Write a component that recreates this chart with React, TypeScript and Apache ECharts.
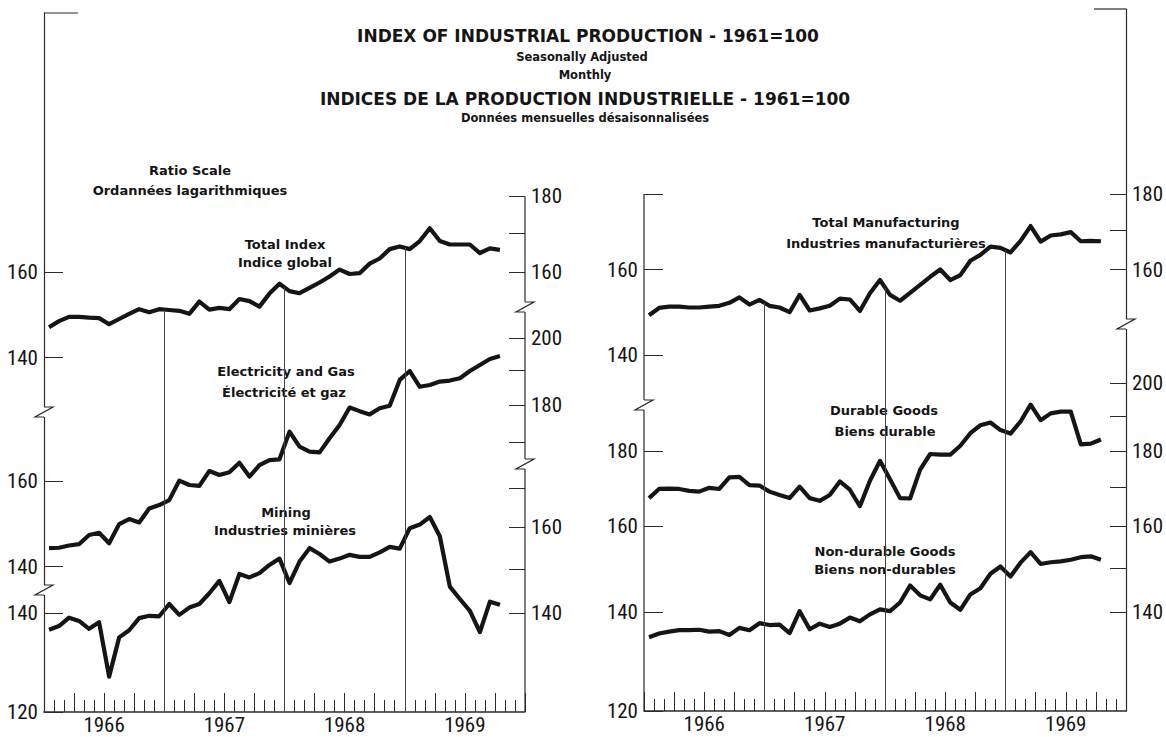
import React, { useEffect, useRef } from "react";
import * as echarts from "echarts";

// ---------------- data (monthly, Jan 1966 – Oct 1969, 1961 = 100) ----------------
const yearLabels = ["1966", "1967", "1968", "1969"];

const totalIndex = [
  146.8, 148.2, 149.2, 149.2, 149.0, 148.9, 147.5, 148.7, 149.9, 151.0, 150.3, 151.0,
  150.8, 150.6, 149.9, 152.8, 150.9, 151.3, 151.0, 153.4, 152.9, 151.6, 154.7, 157.1,
  155.3, 154.8, 156.1, 157.4, 158.9, 160.6, 159.5, 159.7, 162.1, 163.4, 165.8, 166.5,
  165.8, 167.9, 171.3, 167.9, 167.0, 167.0, 167.0, 164.8, 166.0, 165.6,
];
const electricityGas = [
  144.1, 144.2, 144.7, 145.0, 147.1, 147.6, 145.2, 149.6, 150.8, 150.0, 153.3, 154.1,
  155.3, 160.1, 159.0, 158.8, 162.5, 161.5, 162.2, 164.6, 161.1, 164.0, 165.3, 165.5,
  172.8, 168.8, 167.5, 167.3, 171.0, 174.6, 179.4, 178.4, 177.5, 179.2, 179.9, 187.3,
  189.9, 185.3, 185.8, 186.8, 187.1, 187.8, 189.9, 191.7, 193.5, 194.4,
];
const mining = [
  136.4, 137.2, 139.0, 138.3, 136.6, 138.0, 126.8, 134.8, 136.3, 138.9, 139.4, 139.3,
  142.0, 139.6, 141.2, 142.0, 144.4, 147.2, 142.4, 148.8, 148.0, 149.0, 150.9, 152.4,
  146.7, 151.7, 154.9, 153.5, 151.7, 152.4, 153.3, 152.8, 152.8, 153.9, 155.2, 154.8,
  159.8, 160.7, 162.6, 157.8, 145.9, 143.1, 140.5, 135.9, 142.5, 141.8,
];
const totalManufacturing = [
  149.0, 150.7, 151.0, 151.0, 150.8, 150.8, 151.0, 151.2, 151.9, 153.2, 151.5, 152.6,
  151.2, 150.8, 149.7, 153.8, 150.1, 150.6, 151.2, 152.9, 152.7, 150.0, 154.2, 157.4,
  153.8, 152.4, 154.3, 156.2, 158.2, 160.0, 157.4, 158.6, 162.2, 163.7, 165.8, 165.5,
  164.3, 167.3, 171.2, 167.1, 168.7, 169.0, 169.6, 167.2, 167.3, 167.2,
];
const durableGoods = [
  167.2, 169.6, 169.7, 169.6, 169.1, 168.9, 169.9, 169.6, 172.7, 172.8, 170.6, 170.5,
  168.9, 168.0, 167.2, 170.2, 167.2, 166.5, 168.0, 171.6, 169.4, 165.1, 171.8, 177.2,
  172.2, 167.2, 167.1, 174.8, 179.1, 178.9, 178.9, 181.4, 185.0, 187.3, 188.1, 185.9,
  184.9, 188.4, 193.4, 188.8, 190.8, 191.3, 191.3, 181.8, 182.0, 183.2,
];
const nonDurableGoods = [
  134.6, 135.4, 135.8, 136.1, 136.1, 136.2, 135.8, 135.9, 135.1, 136.6, 136.1, 137.6,
  137.2, 137.3, 135.5, 140.2, 136.3, 137.5, 136.8, 137.5, 138.8, 138.0, 139.5, 140.6,
  140.2, 142.1, 145.9, 143.7, 142.8, 146.1, 142.1, 140.5, 143.9, 145.3, 148.6, 150.3,
  148.0, 151.2, 153.7, 150.9, 151.3, 151.5, 151.9, 152.5, 152.7, 151.9,
];

// tick values / labels of the broken ratio scales
const totalLeftTicks = [140, 160];
const totalRightTicks = [160, 170, 180];
const totalRightLabels = [160, 180];
const elecLeftTicks = [140, 160];
const elecRightTicks = [170, 180, 190, 200];
const elecRightLabels = [180, 200];
const miningLeftTicks = [120, 140];
const miningRightTicks = [140, 150, 160, 170];
const miningRightLabels = [140, 160];
const mfgLeftTicks = [140, 160, 180];
const mfgLeftLabels = [140, 160];
const mfgRightTicks = [160, 170, 180];
const mfgRightLabels = [160, 180];
const goodsLeftTicks = [120, 140, 160, 180];
const goodsRightTicks = [140, 150, 160, 170, 180, 190, 200];
const goodsRightLabels = [140, 160, 180, 200];

// ---------------- layout ----------------
const K = 641.8; // pixels per unit of ln(value)
const LG = { left: 44, right: 525, top: 13, bottom: 712 };
const RG = { left: 644, right: 1126, top: 9, bottom: 711 };
const INK = "#151515";
const AX = "#2a2a2a";
const NUM_FONT =
  "'Liberation Sans Narrow', 'Roboto Condensed', 'DejaVu Sans Condensed', 'Liberation Sans', sans-serif";
const TXT_FONT = "'DejaVu Sans', 'Liberation Sans', sans-serif";

type Anchor = { v: number; y: number };
const A_TOTAL: Anchor = { v: 160, y: 272 };
const A_ELEC: Anchor = { v: 160, y: 481 };
const A_MIN: Anchor = { v: 120, y: 712 };
const A_MFG: Anchor = { v: 160, y: 269.5 };
const A_GOODS: Anchor = { v: 120, y: 711 };

const range = (a: Anchor, g: { top: number; bottom: number }) => ({
  min: Math.log(a.v) - (g.bottom - a.y) / K,
  max: Math.log(a.v) + (a.y - g.top) / K,
});
const py = (a: Anchor, v: number) => a.y - K * Math.log(v / a.v);

function yAx(
  gridIndex: number,
  position: "left" | "right",
  r: { min: number; max: number },
  ticks: number[],
  labels: number[],
  showLine: boolean
) {
  const left = position === "left";
  return {
    type: "value",
    gridIndex,
    position,
    min: r.min,
    max: r.max,
    axisLine: { show: showLine, onZero: false, lineStyle: { color: AX, width: 1.2 } },
    axisTick: {
      show: true,
      inside: true,
      length: left ? 19 : 16,
      customValues: ticks.map((t) => Math.log(t)),
      lineStyle: { color: AX, width: 1 },
    },
    axisLabel: {
      show: true,
      customValues: labels.map((t) => Math.log(t)),
      formatter: (v: number) => String(Math.round(Math.exp(v))),
      margin: 6,
      color: INK,
      fontSize: 21,
      fontFamily: NUM_FONT,
    },
    splitLine: { show: false },
  };
}

function xAx(gridIndex: number) {
  return {
    type: "value",
    gridIndex,
    min: 0,
    max: 48,
    interval: 3,
    position: "bottom",
    axisLine: { show: true, onZero: false, lineStyle: { color: AX, width: 1.5 } },
    axisTick: { show: true, inside: true, length: 19, lineStyle: { color: AX, width: 1 } },
    minorTick: { show: true, splitNumber: 3, length: 12, lineStyle: { color: AX, width: 1 } },
    axisLabel: {
      formatter: (v: number) => (v % 12 === 6 ? yearLabels[(v - 6) / 12] : ""),
      margin: 2,
      color: INK,
      fontSize: 21,
      lineHeight: 21,
      fontFamily: NUM_FONT,
    },
    splitLine: { show: false },
    minorSplitLine: { show: false },
  };
}

const toPts = (vals: number[]) => vals.map((v, i) => [i + 0.5, Math.log(v)]);

function yearLines(vals: number[], r: { min: number }) {
  return [12, 24, 36].map((b) => [
    { coord: [b, r.min] },
    { coord: [b, (Math.log(vals[b - 1]) + Math.log(vals[b])) / 2] },
  ]);
}

function lineSeries(vals: number[], xi: number, yi: number, extra: any = {}) {
  return {
    type: "line",
    xAxisIndex: xi,
    yAxisIndex: yi,
    data: toPts(vals),
    symbol: "none",
    showSymbol: false,
    lineStyle: { color: INK, width: 4.2, join: "round" },
    silent: true,
    z: 3,
    ...extra,
  };
}

const txt = (text: string, x: number, y: number, size: number, weight = "bold", family = TXT_FONT) => ({
  type: "text",
  x,
  y,
  silent: true,
  style: {
    text,
    fill: INK,
    fontSize: size,
    fontWeight: weight,
    fontFamily: family,
    textAlign: "center",
    textVerticalAlign: "middle",
    align: "center",
    verticalAlign: "middle",
  },
});

const ln = (x1: number, y1: number, x2: number, y2: number) => ({
  type: "line",
  silent: true,
  shape: { x1, y1, x2, y2 },
  style: { stroke: AX, lineWidth: 1.2 },
});

const brk = (x: number, y: number) => [
  { type: "rect", silent: true, shape: { x: x - 3, y: y - 5, width: 6, height: 10 }, style: { fill: "#fff" }, z: 10 },
  {
    type: "polyline",
    silent: true,
    shape: { points: [[x, y - 5], [x + 9, y - 5], [x - 9, y + 5], [x, y + 5]] },
    style: { stroke: AX, lineWidth: 1.2, fill: null },
    z: 11,
  },
];

export default function App() {
  const ref = useRef<HTMLDivElement>(null);
  useEffect(() => {
    if (!ref.current) return;
    const chart = echarts.init(ref.current, undefined, { renderer: "svg" });

    const rTotal = range(A_TOTAL, LG);
    const rElec = range(A_ELEC, LG);
    const rMin = range(A_MIN, LG);
    const rMfg = range(A_MFG, RG);
    const rGoods = range(A_GOODS, RG);

    const markYears = (vals: number[], r: { min: number }) => ({
      silent: true,
      symbol: ["none", "none"],
      label: { show: false },
      lineStyle: { color: "#444", width: 1, type: "solid" },
      emphasis: { disabled: true },
      data: yearLines(vals, r),
    });

    const option: any = {
      animation: false,
      backgroundColor: "#ffffff",
      grid: [
        { left: LG.left, top: LG.top, width: LG.right - LG.left, height: LG.bottom - LG.top, containLabel: false, outerBoundsMode: "none" },
        { left: RG.left, top: RG.top, width: RG.right - RG.left, height: RG.bottom - RG.top, containLabel: false, outerBoundsMode: "none" },
      ],
      xAxis: [xAx(0), xAx(1)],
      yAxis: [
        yAx(0, "left", rTotal, totalLeftTicks, totalLeftTicks, true),
        yAx(0, "right", rTotal, totalRightTicks, totalRightLabels, false),
        yAx(0, "left", rElec, elecLeftTicks, elecLeftTicks, false),
        yAx(0, "right", rElec, elecRightTicks, elecRightLabels, false),
        yAx(0, "left", rMin, miningLeftTicks, miningLeftTicks, false),
        yAx(0, "right", rMin, miningRightTicks, miningRightLabels, false),
        yAx(1, "left", rMfg, mfgLeftTicks, mfgLeftLabels, false),
        yAx(1, "right", rMfg, mfgRightTicks, mfgRightLabels, true),
        yAx(1, "left", rGoods, goodsLeftTicks, goodsLeftTicks, false),
        yAx(1, "right", rGoods, goodsRightTicks, goodsRightLabels, false),
      ],
      series: [
        lineSeries(totalIndex, 0, 0, { name: "Total Index", markLine: markYears(totalIndex, rTotal) }),
        lineSeries(electricityGas, 0, 2, { name: "Electricity and Gas" }),
        lineSeries(mining, 0, 4, { name: "Mining" }),
        lineSeries(totalManufacturing, 1, 6, {
          name: "Total Manufacturing",
          markLine: markYears(totalManufacturing, rMfg),
        }),
        lineSeries(durableGoods, 1, 8, { name: "Durable Goods" }),
        lineSeries(nonDurableGoods, 1, 8, { name: "Non-durable Goods" }),
      ],
      graphic: [
        txt("INDEX OF INDUSTRIAL PRODUCTION - 1961=100", 588, 36, 17),
        txt("Seasonally Adjusted", 582, 57, 11.5),
        txt("Monthly", 585, 75, 11.5),
        txt("INDICES DE LA PRODUCTION INDUSTRIELLE - 1961=100", 585, 99, 17),
        txt("Données mensuelles désaisonnalisées", 585, 118, 11.5),
        txt("Ratio Scale", 190, 170, 13),
        txt("Ordannées lagarithmiques", 190, 190, 13),
        txt("Total Index", 285, 244, 13),
        txt("Indice global", 285, 262, 13),
        txt("Electricity and Gas", 286, 371, 13),
        txt("Électricité et gaz", 284, 392, 13),
        txt("Mining", 286, 512, 13),
        txt("Industries minières", 285, 530, 13),
        txt("Total Manufacturing", 886, 222, 13),
        txt("Industries manufacturières", 886, 243, 13),
        txt("Durable Goods", 884, 410, 13),
        txt("Biens durable", 885, 431, 13),
        txt("Non-durable Goods", 885, 551, 13),
        txt("Biens non-durables", 885, 569, 13),
        // frame brackets and partial axis lines
        ln(LG.left, LG.top, LG.left + 34, LG.top),
        ln(RG.right - 32, RG.top, RG.right, RG.top),
        ln(LG.right, py(A_TOTAL, 180), LG.right, LG.bottom),
        ln(RG.left, py(A_MFG, 180), RG.left, RG.bottom),
        // scale breaks
        ...brk(LG.left, 412),
        ...brk(LG.left, 590),
        ...brk(LG.right, 307),
        ...brk(LG.right, 464),
        ...brk(RG.left, 405),
        ...brk(RG.right, 324),
      ],
    };
    chart.setOption(option);
    return () => chart.dispose();
  }, []);
  return (
    <div
      ref={ref}
      style={{ position: "absolute", left: 0, top: 0, width: 1166, height: 737, background: "#fff" }}
    />
  );
}
